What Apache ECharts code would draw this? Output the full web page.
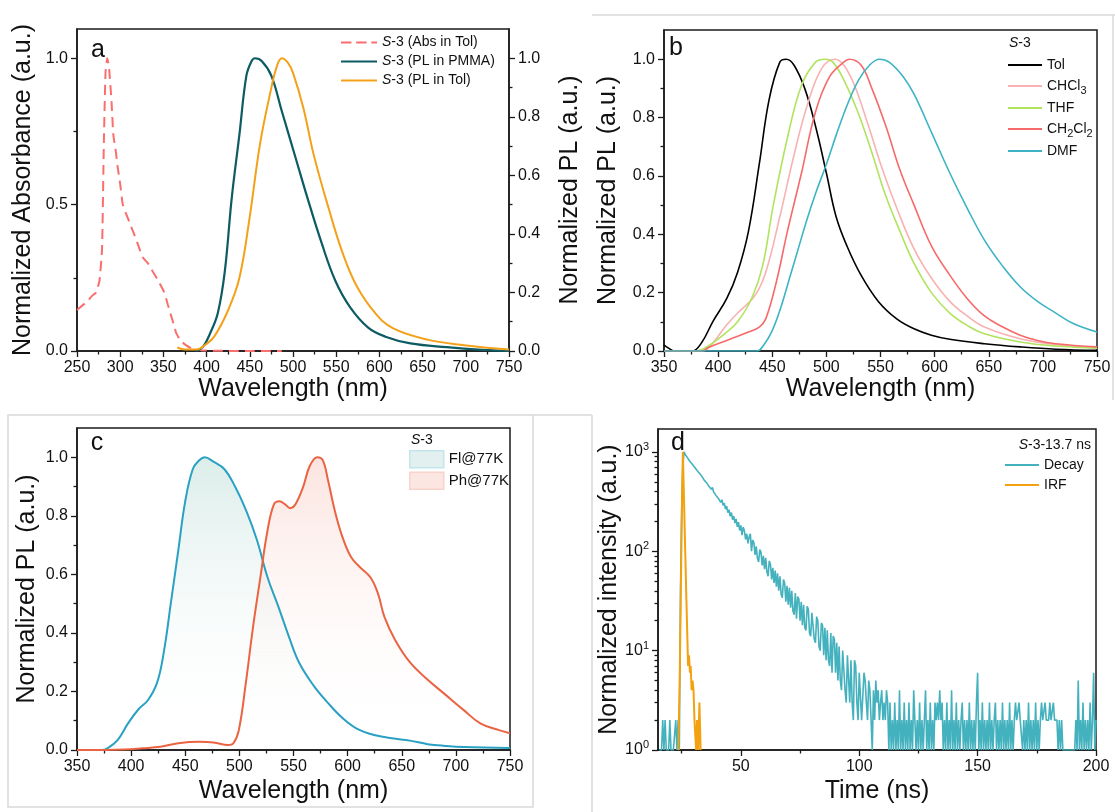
<!DOCTYPE html>
<html><head><meta charset="utf-8">
<script src="https://cdn.jsdelivr.net/npm/echarts@6/dist/echarts.min.js"></script>
<style>html,body{margin:0;padding:0;background:#fff}#c{width:1115px;height:812px}</style>
</head><body><div id="c"></div>
<script>
const F = 'Liberation Sans, Arial, Helvetica, sans-serif';

// ---------- Panel a ----------
const absWl  = [250,256,262,268,272,276,279,281,283,285,287,290,292,295,297,300,303,308,312,316,321,326,332,338,344,351,355,359,362,365,370,376,382,388,395,410,430,450,470,487];
const absVal = [0.14,0.155,0.17,0.19,0.20,0.24,0.35,0.70,0.95,1.0,0.97,0.85,0.74,0.68,0.63,0.57,0.50,0.46,0.43,0.40,0.36,0.32,0.30,0.27,0.24,0.20,0.16,0.12,0.09,0.06,0.035,0.02,0.01,0.005,0.002,0.001,0,0,0,0];
const pmmaWl  = [388,396,404,413,421,429,438,446,452,456,464,475,487,504,516,533,549,566,587,607,636,678,719,750];
const pmmaVal = [0,0.015,0.06,0.13,0.27,0.52,0.74,0.94,0.99,1.0,0.99,0.94,0.82,0.65,0.53,0.37,0.24,0.15,0.08,0.049,0.026,0.013,0.004,0];
const tolPlWl  = [366,375,388,398,409,425,438,450,462,475,481,487,494,500,512,524,541,558,574,595,616,657,698,750];
const tolPlVal = [0.012,0.005,0.005,0.02,0.05,0.14,0.25,0.46,0.71,0.90,0.97,1.0,0.985,0.95,0.83,0.67,0.49,0.33,0.22,0.13,0.077,0.038,0.02,0.005];

// ---------- Panel b ----------
const bTolWl  = [350,355,359,376,385,395,408,418,428,438,447,457,463,470,480,490,500,509,519,532,548,565,581,597,614,646,679,712,750];
const bTolVal = [0.02,0.008,0,0,0.03,0.10,0.18,0.27,0.41,0.64,0.86,0.99,1.0,0.98,0.90,0.77,0.61,0.46,0.36,0.26,0.17,0.11,0.076,0.054,0.04,0.025,0.014,0.006,0.002];
const bChcl3Wl  = [350,385,392,408,418,434,444,457,470,483,496,508,516,526,539,552,565,581,597,614,630,646,679,712,750];
const bChcl3Val = [0,0,0.014,0.09,0.13,0.19,0.27,0.46,0.67,0.85,0.97,1.0,0.98,0.91,0.77,0.62,0.49,0.35,0.25,0.17,0.12,0.082,0.042,0.022,0.011];
const bThfWl  = [350,380,392,408,418,431,441,451,464,477,490,499,506,516,529,542,555,568,581,597,614,630,646,679,712,750];
const bThfVal = [0,0,0.02,0.065,0.10,0.18,0.29,0.50,0.73,0.91,0.99,1.0,0.99,0.93,0.82,0.68,0.53,0.41,0.30,0.20,0.13,0.088,0.059,0.031,0.017,0.01];
const bCh2cl2Wl  = [350,385,392,412,428,438,444,454,464,477,490,503,516,521,532,542,555,568,581,597,614,630,646,663,679,695,712,750];
const bCh2cl2Val = [0,0,0.014,0.042,0.065,0.082,0.11,0.24,0.41,0.61,0.82,0.94,0.99,1.0,0.98,0.90,0.77,0.62,0.50,0.36,0.26,0.18,0.12,0.082,0.054,0.036,0.025,0.014];
const bDmfWl  = [350,436,442,450,458,466,474,482,490,500,510,520,530,540,549,558,571,581,597,614,630,646,663,679,695,712,728,750];
const bDmfVal = [0,0,0.02,0.07,0.15,0.25,0.35,0.45,0.54,0.64,0.75,0.85,0.93,0.98,1.0,0.99,0.94,0.88,0.75,0.61,0.49,0.38,0.29,0.22,0.17,0.13,0.094,0.065];

// ---------- Panel c ----------
const flWl  = [350,373,378,387.5,397,407,415.5,424,430,437,443.5,450,457,463,468,476,486,496,506,516,526,536,545.5,555,568.6,582,595,608,624.6,641,657.5,674,690,707,750];
const flVal = [0,0,0.006,0.034,0.09,0.14,0.17,0.23,0.33,0.51,0.68,0.85,0.96,0.99,1.0,0.985,0.96,0.90,0.82,0.72,0.59,0.49,0.39,0.30,0.22,0.16,0.11,0.074,0.051,0.04,0.032,0.02,0.014,0.01,0.007];
const phWl  = [350,394,410.6,427,443.5,463,476,489.6,494.5,499.5,506,512.6,519,526,532,537,542,547,552,559,565,572,577,582,588,595,603,611,621,628,634,644,657.5,674,690,707,723,740,750];
const phVal = [0,0.002,0.006,0.011,0.023,0.028,0.026,0.017,0.023,0.068,0.23,0.42,0.58,0.75,0.84,0.85,0.84,0.826,0.84,0.90,0.97,1.0,0.99,0.92,0.82,0.73,0.66,0.626,0.59,0.535,0.455,0.375,0.30,0.24,0.19,0.137,0.09,0.068,0.057];

// ---------- Panel d ----------
const decayT0 = 15.5, decayStep = 0.5;   // TCSPC channel start / width (ns)
const decayCounts = [
 1,1,1,2,1,2,1,1,1,2,
 1,1,1,1,2,1,2,1,40,260,
 720,1000,940,950,870,880,800,830,750,770,
 700,710,650,660,610,620,570,575,520,540,
 490,500,450,470,420,440,395,400,365,380,
 340,355,310,330,290,305,265,285,245,262,
 225,245,208,226,192,212,176,196,162,182,
 145,175,160,132,150,120,140,150,100,130,
 122,92,112,85,78,104,98,72,90,66,
 86,62,56,80,74,52,68,48,64,44,
 60,40,56,37,34,52,48,31,45,29,
 43,27,40,25,23,38,21,35,33,20,
 31,18,29,17,16,28,26,15,14,24,
 23,13,12,22,20,11,10,19,18,9,
 17,8,16,8,7,15,6,14,13,6,
 12,5,11,5,4,10,10,4,3,9,
 9,3,8,3,2,8,7,3,2,6,
 6,2,2,6,5,3,2,5,4,2,
 1,4,2,5,3,4,2,3,4,2,
 3,2,4,3,1,3,1,2,1,3,
 1,2,1,4,1,2,1,3,1,2,
 1,3,1,2,1,4,2,1,2,1,
 3,1,2,1,2,4,1,2,1,3,
 1,2,1,3,2,3,2,4,2,3,
 1,2,1,3,1,2,1,4,1,2,
 1,3,1,2,1,2,3,1,2,1,
 2,1,3,1,2,1,2,1,3,6,
 1,2,1,3,1,2,1,2,1,3,
 1,2,1,2,3,1,2,1,2,1,
 3,1,2,1,2,1,3,1,2,1,
 2,3,2,2,3,2,2,1,2,1,
 2,1,3,1,2,1,2,1,3,1,
 2,1,2,3,2,2,3,2,2,2,
 3,2,2,3,2,2,2,1,2,1,
 2,1,1,1,1,1,1,1,1,1,
 1,1,2,1,5,1,2,1,3,1,
 2,1,2,1,3,1,2,6,1,2
];
const irfT   = [23.6,24.2,24.7,25.2,25.5,26.0,26.5,27.0,27.5,27.7,28.1,28.5,28.8,29.2,29.6,30.0,30.4,30.8,31.1,31.5,32.0,32.5,33.0];
const irfVal = [1,6,50,400,1000,320,100,32,11,7,9,6,7,4,5,4,2,2,1,2,1,3,1];

// tick values
const aXTicks = [250,300,350,400,450,500,550,600,650,700,750];
const aXMinor = [275,325,375,425,475,525,575,625,675,725];
const aYLTicks = [0,0.5,1.0];
const aYLMinor = [0.25,0.75];
const plTicks = [0,0.2,0.4,0.6,0.8,1.0];
const plMinor = [0.1,0.3,0.5,0.7,0.9];
const wlTicks = [350,400,450,500,550,600,650,700,750];
const wlMinor = [375,425,475,525,575,625,675,725];
const dXTicks = [50,100,150,200];
const dXMinor = [25,75,125,175];

const pairs = (xs, ys) => xs.map((x, i) => [x, ys[i]]);

const AX = '#1a1a1a';
const NAMEFS = 25;
function xMain(g, min, max, ticks, name, gap) {
  return {type:'value', gridIndex:g, position:'bottom', min, max, name, nameLocation:'middle', nameGap:gap,
    nameTextStyle:{fontSize:NAMEFS, color:'#111', fontFamily:F},
    axisLine:{show:true, onZero:false, lineStyle:{color:AX, width:1.5}},
    axisTick:{show:true, customValues:ticks, length:6, lineStyle:{color:AX, width:1.3}},
    axisLabel:{customValues:ticks, fontSize:16, color:'#111', fontFamily:F, margin:9},
    splitLine:{show:false}};
}
function xMin(g, min, max, ticks) {
  return {type:'value', gridIndex:g, position:'bottom', min, max,
    axisLine:{show:false}, axisTick:{show:true, customValues:ticks, length:3.5, lineStyle:{color:AX, width:1.3}},
    axisLabel:{show:false}, splitLine:{show:false}};
}
function yMain(g, pos, ticks, name, gap) {
  return {type:'value', gridIndex:g, position:pos, min:0, max:1.1, name, nameLocation:'middle', nameGap:gap, nameRotate:90,
    nameTextStyle:{fontSize:NAMEFS, color:'#111', fontFamily:F},
    axisLine:{show:true, onZero:false, lineStyle:{color:AX, width:1.5}},
    axisTick:{show:true, customValues:ticks, length:6, lineStyle:{color:AX, width:1.3}},
    axisLabel:{customValues:ticks, fontSize:16, color:'#111', fontFamily:F, margin:9, formatter:v => v.toFixed(1)},
    splitLine:{show:false}};
}
function yMin(g, pos, ticks, min, max) {
  return {type:'value', gridIndex:g, position:pos, min:min ?? 0, max:max ?? 1.1,
    axisLine:{show:false}, axisTick:{show:true, customValues:ticks, length:3.5, lineStyle:{color:AX, width:1.3}},
    axisLabel:{show:false}, splitLine:{show:false}};
}

const dLogMax = 1700;
const dLogTop = Math.log10(dLogMax);
const dMajorLog = [0,1,2,3];
const dMinorLog = [];
for (let n = 0; n < 4; n++) for (let k = 2; k <= 9; k++) { const v = n + Math.log10(k); if (v <= dLogTop) dMinorLog.push(v); }

const line = (name, xi, yi, data, color, width, extra) => Object.assign({
  name, type:'line', xAxisIndex:xi, yAxisIndex:yi, data, symbol:'none', showSymbol:false,
  smooth:0.4, lineStyle:{color, width}, itemStyle:{color}, emphasis:{disabled:true}, animation:false
}, extra || {});

const grad = (c0) => new echarts.graphic.LinearGradient(0,0,0,1,[{offset:0,color:c0},{offset:1,color:'rgba(255,255,255,0)'}]);

const sub = {fontSize:11, padding:[9,0,0,0], fontFamily:F, color:'#111'};
const bNames = {'Tol':'Tol','CHCl3':'CHCl{s|3}','THF':'THF','CH2Cl2':'CH{s|2}Cl{s|2}','DMF':'DMF'};
const dashIcon = 'path://M0 0H11V2H0Z M16 0H27V2H16Z M32 0H38V2H32Z';

const option = {
  animation:false,
  textStyle:{fontFamily:F},
  grid:[
    {left:77, top:29, width:432, height:322, show:true, borderColor:AX, borderWidth:1.5},
    {left:664, top:30, width:433, height:321, show:true, borderColor:AX, borderWidth:1.5},
    {left:77, top:428, width:433, height:322, show:true, borderColor:AX, borderWidth:1.5},
    {left:658, top:429, width:438, height:321, show:true, borderColor:AX, borderWidth:1.5}
  ],
  xAxis:[
    xMain(0,250,750,aXTicks,'Wavelength (nm)',21), xMin(0,250,750,aXMinor),
    xMain(1,350,750,wlTicks,'Wavelength (nm)',21), xMin(1,350,750,wlMinor),
    xMain(2,350,750,wlTicks,'Wavelength (nm)',29), xMin(2,350,750,wlMinor),
    xMain(3,15,200,dXTicks,'Time (ns)',29), xMin(3,15,200,dXMinor)
  ],
  yAxis:[
    yMain(0,'left',aYLTicks,'Normalized Absorbance (a.u.)',41), yMin(0,'left',aYLMinor),
    yMain(0,'right',plTicks,'Normalized PL (a.u.)',49), yMin(0,'right',plMinor),
    yMain(1,'left',plTicks,'Normalized PL (a.u.)',43), yMin(1,'left',plMinor),
    yMain(2,'left',plTicks,'Normalized PL (a.u.)',37), yMin(2,'left',plMinor),
    {type:'log', logBase:10, gridIndex:3, position:'left', min:1, max:dLogMax,
      name:'Normalized intensity (a.u.)', nameLocation:'middle', nameGap:35, nameRotate:90,
      nameTextStyle:{fontSize:NAMEFS, color:'#111', fontFamily:F},
      axisLine:{show:true, onZero:false, lineStyle:{color:AX, width:1.5}},
      axisTick:{show:false},
      axisLabel:{showMaxLabel:false, fontSize:16, color:'#111', fontFamily:F, margin:9,
        formatter:v => { const l = Math.log10(v); return Math.abs(l - Math.round(l)) > 1e-6 ? '' : '10{sup|' + Math.round(l) + '}'; },
        rich:{sup:{fontSize:11, padding:[0,0,10,0], color:'#111', fontFamily:F}}},
      splitLine:{show:false}},
    Object.assign(yMin(3,'left',dMajorLog,0,dLogTop), {axisTick:{show:true, customValues:dMajorLog, length:6, lineStyle:{color:AX, width:1.3}}}),
    yMin(3,'left',dMinorLog,0,dLogTop)
  ],
  legend:[
    {left:341, top:33, padding:0, orient:'vertical', itemWidth:36, itemHeight:2, itemGap:0, selectedMode:false,
      data:[{name:'S-3 (Abs in Tol)', icon:dashIcon},{name:'S-3 (PL in PMMA)', icon:'rect'},{name:'S-3 (PL in Tol)', icon:'rect'}],
      formatter:n => '{i|S}' + n.slice(1),
      textStyle:{fontSize:14, color:'#111', fontFamily:F, lineHeight:19, rich:{i:{fontStyle:'italic', fontSize:14, fontFamily:F, color:'#111'}}}},
    {left:1008, top:56, padding:0, orient:'vertical', icon:'rect', itemWidth:34, itemHeight:2, itemGap:3, selectedMode:false,
      data:['Tol','CHCl3','THF','CH2Cl2','DMF'],
      formatter:n => bNames[n],
      textStyle:{fontSize:14, color:'#111', fontFamily:F, lineHeight:18, rich:{s:sub}}},
    {left:409, top:450, padding:0, orient:'vertical', itemWidth:34, itemHeight:17, itemGap:3, selectedMode:false,
      data:[
        {name:'Fl@77K', icon:'rect', itemStyle:{color:'#e2f1ef', borderColor:'#c3e5ec', borderWidth:1.5}},
        {name:'Ph@77K', icon:'rect', itemStyle:{color:'#fce6e1', borderColor:'#f8d3cb', borderWidth:1.5}}],
      textStyle:{fontSize:15, color:'#111', fontFamily:F, lineHeight:17}},
    {left:1005, top:456, padding:0, orient:'vertical', icon:'rect', itemWidth:34, itemHeight:2, itemGap:2, selectedMode:false,
      data:['Decay','IRF'],
      textStyle:{fontSize:14, color:'#111', fontFamily:F, lineHeight:18}}
  ],
  series:[
    line('S-3 (Abs in Tol)',0,0,pairs(absWl,absVal),'#fa6e6e',2,{lineStyle:{color:'#fa6e6e', width:2, type:[10,6]}, smooth:0.15}),
    line('S-3 (PL in PMMA)',0,2,pairs(pmmaWl,pmmaVal),'#0d5b63',2.2),
    line('S-3 (PL in Tol)',0,2,pairs(tolPlWl,tolPlVal),'#f3a11a',2),
    line('Tol',2,4,pairs(bTolWl,bTolVal),'#000000',1.6),
    line('CHCl3',2,4,pairs(bChcl3Wl,bChcl3Val),'#f8b2b2',1.6),
    line('THF',2,4,pairs(bThfWl,bThfVal),'#b2e35e',1.6),
    line('CH2Cl2',2,4,pairs(bCh2cl2Wl,bCh2cl2Val),'#f66a6a',1.6),
    line('DMF',2,4,pairs(bDmfWl,bDmfVal),'#3db4c5',1.6),
    line('Fl@77K',4,6,pairs(flWl,flVal),'#2aa1c2',2,{areaStyle:{color:grad('rgba(170,213,205,0.6)')}}),
    line('Ph@77K',4,6,pairs(phWl,phVal),'#ea6342',2,{areaStyle:{color:grad('rgba(246,190,178,0.6)')}}),
    line('Decay',6,8,decayCounts.map((v,i) => [decayT0 + i*decayStep, v]),'#44b2be',1.6,{smooth:false}),
    line('IRF',6,8,pairs(irfT,irfVal),'#f3a10e',2,{smooth:false})
  ],
  graphic:[
    {type:'line', silent:true, z:-1, shape:{x1:592,y1:15,x2:1115,y2:15}, style:{stroke:'#d9d9d9', lineWidth:1.5}},
    {type:'line', silent:true, z:-1, shape:{x1:1113,y1:15,x2:1113,y2:400}, style:{stroke:'#d9d9d9', lineWidth:1.5}},
    {type:'rect', silent:true, z:-1, shape:{x:8,y:415,width:525,height:392}, style:{fill:'none', stroke:'#d9d9d9', lineWidth:1.5}},
    {type:'line', silent:true, z:-1, shape:{x1:533,y1:415,x2:592,y2:415}, style:{stroke:'#d9d9d9', lineWidth:1.5}},
    {type:'line', silent:true, z:-1, shape:{x1:592,y1:415,x2:592,y2:812}, style:{stroke:'#d9d9d9', lineWidth:1.5}},
    {type:'text', x:98, y:50, style:{text:'a', fontSize:25, fontFamily:F, fill:'#111', align:'center', verticalAlign:'middle'}},
    {type:'text', x:676, y:48, style:{text:'b', fontSize:25, fontFamily:F, fill:'#111', align:'center', verticalAlign:'middle'}},
    {type:'text', x:97, y:443, style:{text:'c', fontSize:25, fontFamily:F, fill:'#111', align:'center', verticalAlign:'middle'}},
    {type:'text', x:678, y:443, style:{text:'d', fontSize:25, fontFamily:F, fill:'#111', align:'center', verticalAlign:'middle'}},
    {type:'text', x:1009, y:43, style:{text:'{i|S}-3', fontSize:14, fontFamily:F, fill:'#111', verticalAlign:'middle', rich:{i:{fontStyle:'italic', fontSize:14, fontFamily:F}}}},
    {type:'text', x:411, y:440, style:{text:'{i|S}-3', fontSize:14, fontFamily:F, fill:'#111', verticalAlign:'middle', rich:{i:{fontStyle:'italic', fontSize:14, fontFamily:F}}}},
    {type:'text', x:1091, y:445, style:{text:'{i|S}-3-13.7 ns', fontSize:14, fontFamily:F, fill:'#111', align:'right', verticalAlign:'middle', rich:{i:{fontStyle:'italic', fontSize:14, fontFamily:F}}}}
  ]
};

const chart = echarts.init(document.getElementById('c'), null, {renderer:'canvas'});
chart.setOption(option);
</script></body></html>
